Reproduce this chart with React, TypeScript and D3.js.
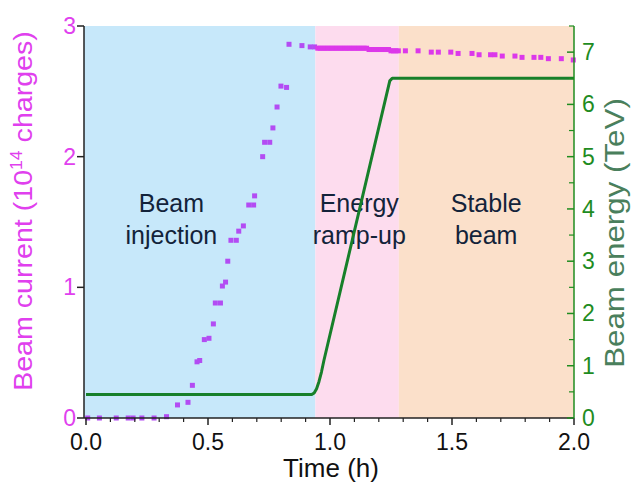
import React from "react";
import * as d3 from "d3";

// ---- data ----
const currentTime = [
  0.007, 0.055, 0.124, 0.173, 0.193, 0.229, 0.279, 0.33, 0.375, 0.418, 0.436, 0.455, 0.466,
  0.485, 0.504, 0.522, 0.53, 0.551, 0.559, 0.572, 0.581, 0.594, 0.616, 0.626, 0.645, 0.667,
  0.687, 0.691, 0.724, 0.732, 0.753, 0.766, 0.783, 0.799, 0.822, 0.832, 0.885, 0.919, 0.937,
  0.95, 0.96, 0.97, 0.98, 0.99, 1.0, 1.01, 1.02, 1.03, 1.04, 1.05, 1.06, 1.07, 1.08, 1.09,
  1.1, 1.11, 1.12, 1.13, 1.14, 1.15, 1.16, 1.17, 1.18, 1.19, 1.2, 1.21, 1.22, 1.23, 1.24,
  1.25, 1.26, 1.27, 1.28,
  1.309, 1.361, 1.415, 1.444, 1.495, 1.525, 1.582, 1.611, 1.658, 1.676, 1.706, 1.758, 1.787,
  1.836, 1.864, 1.895, 1.948, 1.997,
];
const currentValue = [
  0.0, 0.0, 0.0, 0.0, 0.0, 0.0, 0.0, 0.01, 0.1, 0.12, 0.25, 0.43, 0.44,
  0.6, 0.61, 0.72, 0.88, 0.88, 1.01, 1.04, 1.2, 1.36, 1.36, 1.43, 1.47, 1.63,
  1.63, 1.7, 2.0, 2.11, 2.11, 2.22, 2.38, 2.54, 2.53, 2.86, 2.85, 2.84, 2.84,
  2.83, 2.83, 2.83, 2.83, 2.83, 2.83, 2.83, 2.83, 2.83, 2.83, 2.83, 2.83, 2.83, 2.83, 2.83,
  2.83, 2.83, 2.83, 2.83, 2.83, 2.83, 2.82, 2.82, 2.82, 2.82, 2.82, 2.82, 2.82, 2.82, 2.82,
  2.81, 2.81, 2.81, 2.81,
  2.81, 2.81, 2.8, 2.8, 2.8, 2.79, 2.79, 2.78, 2.78, 2.78, 2.77, 2.77, 2.76,
  2.76, 2.76, 2.75, 2.75, 2.74,
];
const energyTime = [0, 0.925, 0.935, 0.945, 0.955, 0.965, 0.975, 1.245, 1.255, 2.0];
const energyValue = [0.45, 0.45, 0.48, 0.56, 0.7, 0.88, 1.1, 6.45, 6.5, 6.5];

const phases = [
  { name: ["Beam", "injection"], start: 0, end: 0.94, fill: "#c7e8fa" },
  { name: ["Energy", "ramp-up"], start: 0.94, end: 1.282, fill: "#fddcee" },
  { name: ["Stable", "beam"], start: 1.282, end: 2.0, fill: "#fbe0ca" },
];
const phaseLabelCenter = [0.35, 1.12, 1.64];

const timeTicks = [0, 0.5, 1.0, 1.5, 2.0];
const currentTicks = [0, 1, 2, 3];
const energyTicks = [0, 1, 2, 3, 4, 5, 6, 7];

// ---- layout ----
const W = 635;
const H = 485;
const left = 84;
const right = 574;
const top = 26;
const bottom = 418;
const FONT = "'Liberation Sans', Arial, sans-serif";
const MAGENTA = "#e040ee";
const GREEN = "#1f8c1f";

export default function App() {
  const x = d3.scaleLinear().domain([0, 2]).range([86, right]);
  const yI = d3.scaleLinear().domain([0, 3]).range([bottom, top]);
  const yE = d3.scaleLinear().domain([0, 7.5]).range([bottom, top]);

  const energyLine = d3
    .line<number>()
    .x((_, i) => x(energyTime[i]))
    .y((d) => yE(d));

  const minorX = d3.range(0, 2.0001, 0.1).filter((t) => !timeTicks.some((m) => Math.abs(m - t) < 1e-6));
  const minorE = d3.range(0.5, 7.51, 1);
  const sq = 5;

  return (
    <svg width={W} height={H} style={{ display: "block", position: "absolute", left: 0, top: 0 }} fontFamily={FONT}>
      <rect x={0} y={0} width={W} height={H} fill="#ffffff" />
      {phases.map((p, i) => (
        <rect
          key={i}
          x={i === 0 ? left : x(p.start)}
          y={top}
          width={(i === phases.length - 1 ? right : x(p.end)) - (i === 0 ? left : x(p.start))}
          height={bottom - top}
          fill={p.fill}
        />
      ))}
      {phases.map((p, i) => (
        <text key={i} x={x(phaseLabelCenter[i])} textAnchor="middle" fontSize={25} fill="#13233a">
          <tspan x={x(phaseLabelCenter[i])} y={212}>{p.name[0]}</tspan>
          <tspan x={x(phaseLabelCenter[i])} y={244}>{p.name[1]}</tspan>
        </text>
      ))}
      <path d={energyLine(energyValue) || ""} fill="none" stroke="#17802a" strokeWidth={3} strokeLinejoin="round" />
      {currentTime.map((t, i) => (
        <rect
          key={i}
          x={x(t) - sq / 2}
          y={yI(currentValue[i]) - sq / 2}
          width={sq}
          height={sq}
          fill={t < 0.94 ? "#b34cf3" : "#dc38ea"}
        />
      ))}
      {/* bottom axis */}
      <line x1={left} x2={right} y1={bottom} y2={bottom} stroke="#222" strokeWidth={1.5} />
      {timeTicks.map((t) => (
        <g key={t}>
          <line x1={x(t)} x2={x(t)} y1={bottom} y2={bottom + 7} stroke="#222" strokeWidth={1.5} />
          <text x={x(t)} y={450} textAnchor="middle" fontSize={23} fill="#111">
            {t.toFixed(1)}
          </text>
        </g>
      ))}
      {minorX.map((t) => (
        <line key={t} x1={x(t)} x2={x(t)} y1={bottom} y2={bottom + 4} stroke="#222" strokeWidth={1.2} />
      ))}
      <text x={(86 + right) / 2 + 1} y={477} textAnchor="middle" fontSize={26} fill="#111">
        Time (h)
      </text>
      {/* left axis */}
      <line x1={left} x2={left} y1={top} y2={bottom} stroke="#222" strokeWidth={1.5} />
      {currentTicks.map((v) => (
        <g key={v}>
          <line x1={left - 7} x2={left} y1={yI(v)} y2={yI(v)} stroke="#222" strokeWidth={1.5} />
          <text x={left - 8} y={yI(v) + 8} textAnchor="end" fontSize={23} fill={MAGENTA}>
            {v}
          </text>
        </g>
      ))}
      <text transform={`translate(32, 211) rotate(-90) scale(1.1, 1)`} textAnchor="middle" fontSize={26} fill={MAGENTA}>
        Beam current (10<tspan dy={-10} fontSize={16}>14</tspan>
        <tspan dy={10}> charges)</tspan>
      </text>
      {/* right axis */}
      <line x1={right} x2={right} y1={top} y2={bottom} stroke={GREEN} strokeWidth={1.5} />
      {energyTicks.map((v) => (
        <g key={v}>
          <line x1={right - 7} x2={right} y1={yE(v)} y2={yE(v)} stroke={GREEN} strokeWidth={1.5} />
          <text x={right + 8} y={yE(v) + 8} textAnchor="start" fontSize={23} fill={GREEN}>
            {v}
          </text>
        </g>
      ))}
      {minorE.map((v) => (
        <line key={v} x1={right - 5} x2={right} y1={yE(v)} y2={yE(v)} stroke={GREEN} strokeWidth={1.2} />
      ))}
      <text transform={`translate(624, 233) rotate(-90) scale(1.16, 1)`} textAnchor="middle" fontSize={27} fill="#4a7f5c">
        Beam energy (TeV)
      </text>
    </svg>
  );
}
